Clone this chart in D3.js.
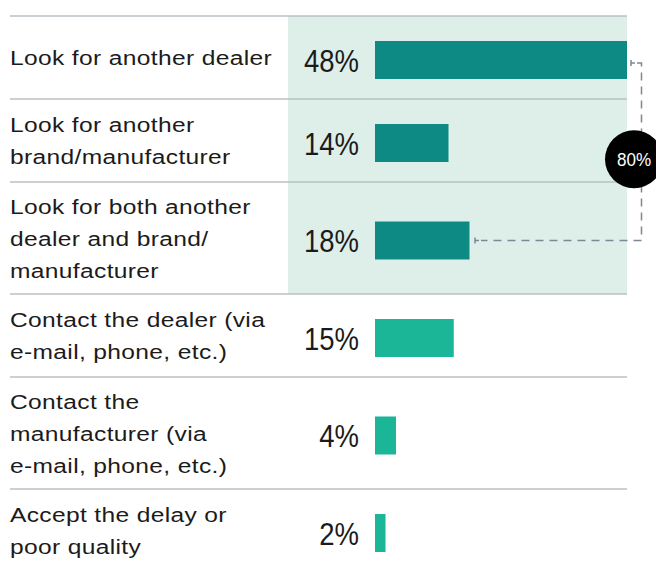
<!DOCTYPE html>
<html>
<head>
<meta charset="utf-8">
<script src="https://cdn.jsdelivr.net/npm/d3@7"></script>
<style>
  html, body { margin: 0; padding: 0; background: #ffffff; }
  svg { display: block; }
</style>
</head>
<body>
<svg id="chart" width="656" height="579"></svg>
<script>
// Survey answers: what respondents would do about a delay or poor quality
const categories = [
  ["Look for another dealer"],
  ["Look for another", "brand/manufacturer"],
  ["Look for both another", "dealer and brand/", "manufacturer"],
  ["Contact the dealer (via", "e-mail, phone, etc.)"],
  ["Contact the", "manufacturer (via", "e-mail, phone, etc.)"],
  ["Accept the delay or", "poor quality"]
];
const values = [48, 14, 18, 15, 4, 2];
const switching = [true, true, true, false, false, false];   // rows that count toward the combined share
const combinedLabel = "80%";

const svg = d3.select("#chart");

const colors = {
  switchBar: "#0e8a84",
  otherBar: "#1bb597",
  band: "#deefea",
  rule: "#b9c0c6",
  bracket: "#7d8892",
  text: "#1b1b1b"
};

// Row geometry: three-line rows are taller than one/two-line rows
const top0 = 16;
const rowHeights = categories.map(c => c.length > 2 ? 112 : 83);
const rowTops = [top0, ...d3.cumsum(rowHeights).map(h => top0 + h)];
const rows = categories.map((c, i) => ({
  lines: c,
  value: values[i],
  hi: switching[i],
  y0: rowTops[i],
  y1: rowTops[i + 1],
  cy: (rowTops[i] + rowTops[i + 1]) / 2
}));

const x = d3.scaleLinear().domain([0, d3.max(values)]).range([375, 627]);
const barH = 38;
const barCy = r => r.cy + 2.5;

// Shaded band behind the "switching" rows
const hiRows = rows.filter(r => r.hi);
svg.append("rect")
  .attr("x", 288)
  .attr("y", hiRows[0].y0)
  .attr("width", x.range()[1] - 288)
  .attr("height", hiRows[hiRows.length - 1].y1 - hiRows[0].y0)
  .attr("fill", colors.band);

// Row separators
svg.append("g").selectAll("line")
  .data(rows.map(r => r.y0))
  .join("line")
  .attr("x1", 10).attr("x2", x.range()[1])
  .attr("y1", d => d).attr("y2", d => d)
  .attr("stroke", colors.rule)
  .attr("stroke-width", 1.5);

// Bars
svg.append("g").selectAll("rect")
  .data(rows)
  .join("rect")
  .attr("x", x(0))
  .attr("y", r => barCy(r) - barH / 2)
  .attr("width", r => x(r.value) - x(0))
  .attr("height", barH)
  .attr("fill", r => r.hi ? colors.switchBar : colors.otherBar);

// Value labels (condensed)
const valueX = x(0) - 16;
svg.append("g").selectAll("text")
  .data(rows)
  .join("text")
  .attr("transform", r => `translate(${valueX},${barCy(r) + 11.7}) scale(0.86,1)`)
  .attr("text-anchor", "end")
  .attr("font-family", "'Liberation Sans', Arial, sans-serif")
  .attr("font-size", 32)
  .attr("fill", colors.text)
  .text(r => r.value + "%");

// Category labels
const lineGap = 32;
const labelG = svg.append("g")
  .attr("font-family", "'Liberation Sans', Arial, sans-serif")
  .attr("font-size", 21)
  .attr("letter-spacing", 0.3)
  .attr("fill", colors.text);
rows.forEach(r => {
  const first = r.cy - (r.lines.length - 1) * lineGap / 2 + 7.5;
  r.lines.forEach((ln, j) => {
    labelG.append("text")
      .attr("transform", `translate(10,${first + j * lineGap}) scale(1.17,1)`)
      .text(ln);
  });
});

// Bracket joining the switching bars
const topRow = hiRows[0], botRow = hiRows[hiRows.length - 1];
const bx = 641.5;
const yTop = barCy(topRow) + 3;
const yBot = barCy(botRow);
const xTopStart = x(topRow.value) + 4;
const xBotStart = x(botRow.value) + 5.5;
const br = svg.append("g")
  .attr("stroke", colors.bracket)
  .attr("stroke-width", 1.5)
  .attr("fill", "none");
br.append("path")
  .attr("d", `M${xTopStart + 6},${yTop} H${bx} V${yBot} H${xBotStart + 6}`)
  .attr("stroke-dasharray", "8 6");
[[xTopStart, yTop], [xBotStart, yBot]].forEach(([sx, sy]) => {
  br.append("path").attr("d", `M${sx},${sy - 3} V${sy + 3} M${sx},${sy} H${sx + 4}`);
});

// Combined share badge
const badge = svg.append("g").attr("transform", `translate(634,${(yTop + yBot) / 2 + 7.5})`);
badge.append("circle").attr("r", 29).attr("fill", "#000000");
badge.append("text")
  .attr("text-anchor", "middle")
  .attr("y", 7)
  .attr("font-family", "'Liberation Sans', Arial, sans-serif")
  .attr("font-size", 18)
  .attr("fill", "#ffffff")
  .attr("transform", "scale(0.95,1)")
  .text(combinedLabel);
</script>
</body>
</html>
